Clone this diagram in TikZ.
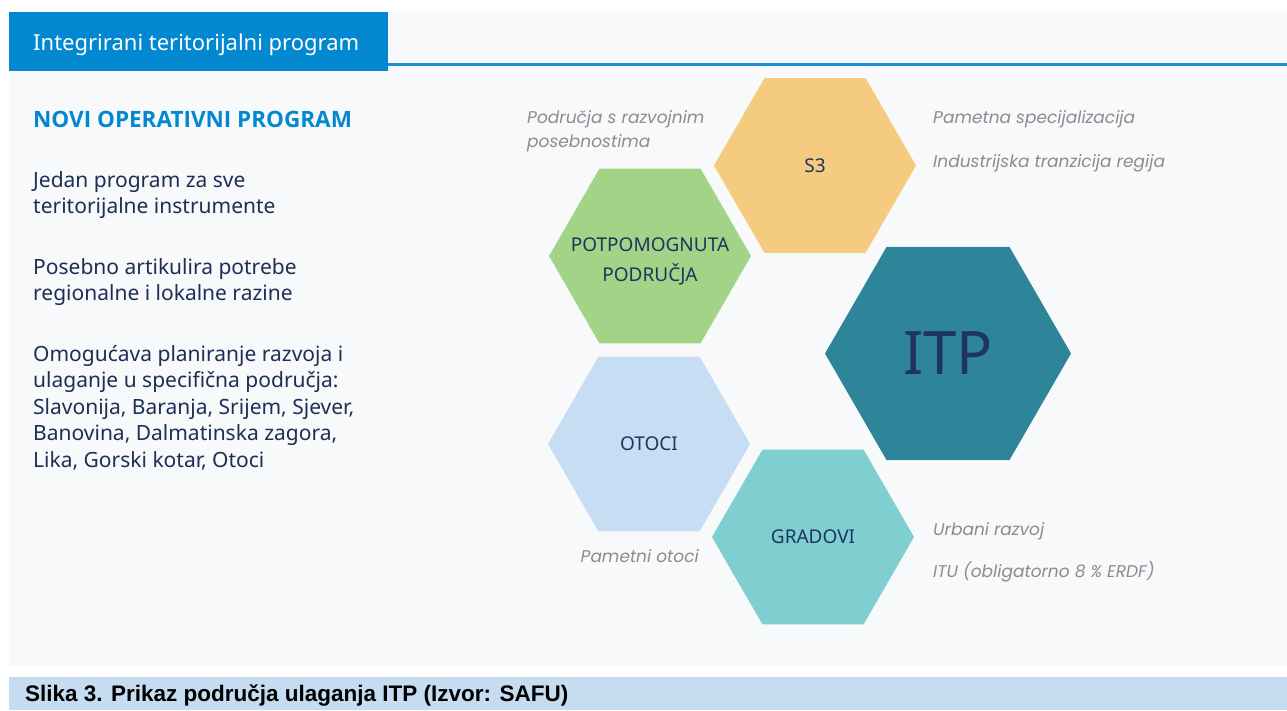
\documentclass[tikz,border=0pt]{standalone}
\usepackage{fontspec}
\setmainfont{Noto Sans}
\newfontfamily\notefont{Poppins}
\newfontfamily\headfont{Open Sans}
\newfontfamily\capfont{Liberation Sans}
\usetikzlibrary{shapes.geometric, positioning}
\definecolor{panelgray}{RGB}{247,249,251}
\definecolor{headblue}{RGB}{2,136,209}
\definecolor{lineblue}{RGB}{26,143,214}
\definecolor{capblue}{RGB}{197,220,241}
\definecolor{bodynavy}{RGB}{30,47,85}
\definecolor{hexnavy}{RGB}{31,52,96}
\definecolor{notegray}{RGB}{140,140,144}
\definecolor{hexyellow}{RGB}{244,203,127}
\definecolor{hexgreen}{RGB}{163,211,134}
\definecolor{hexsky}{RGB}{198,221,243}
\definecolor{hexaqua}{RGB}{127,207,209}
\definecolor{hexteal}{RGB}{46,133,153}
\tikzset{
    hexa/.style={
           regular polygon,
           regular polygon sides=6,
           draw=none,
           inner sep=0pt,
           outer sep=0pt,
           minimum size=202pt,
           },
    hextext/.style={text=hexnavy, font=\fontsize{19}{30}\selectfont, align=center},
    note/.style={text=notegray, font=\notefont\itshape\fontsize{17}{24}\selectfont, align=left, inner sep=0pt},
    body/.style={text=bodynavy, font=\fontsize{21}{26.5}\selectfont, align=left, anchor=base west, inner sep=0pt},
}
\newcommand{\Potpom}{POTPOMOGNUTA\\PODRUČJA}
\newcommand{\OmoguTxt}{Omogućava planiranje razvoja i\\ulaganje u specifična područja:\\Slavonija, Baranja, Srijem, Sjever,\\Banovina, Dalmatinska zagora,\\Lika, Gorski kotar, Otoci}

\begin{document}
\begin{tikzpicture}[x=1pt, y=-1pt]
  \useasboundingbox (0,0) rectangle (1287,710);
  \fill[panelgray] (9,11) rectangle (1287,666);
  \fill[capblue]   (9,677) rectangle (1287,710);
  \node[fill=headblue, minimum width=379pt, minimum height=59pt, anchor=north west, inner sep=0pt] (head) at (9,12) {};
  \node[text=white, font=\fontsize{22}{24}\selectfont, anchor=base west, inner sep=0pt] (headtxt) at (33,50) {Integrirani teritorijalni program};
  \coordinate (lineend) at (1287,64);
  \draw[lineblue, line width=3pt] (head.south east |- lineend) -- (lineend);

  \node[text=headblue, font=\headfont\bfseries\fontsize{22.5}{26}\selectfont, anchor=base west, inner sep=0pt] (novi) at (33,127) {NOVI OPERATIVNI PROGRAM};
  \node[body] (jedan)   at (33,213.5) {Jedan program za sve\\teritorijalne instrumente};
  \node[body] (posebno) at (33,300.5) {Posebno artikulira potrebe\\regionalne i lokalne razine};
  \node[body] (omogu)   at (33,467)   {\OmoguTxt};

  \node[hexa, fill=hexyellow]               (s3)   at (815,165.5) {};
  \node[hexa, fill=hexgreen]                (pot)  at (650,256)   {};
  \node[hexa, fill=hexsky]                  (oto)  at (649,444)   {};
  \node[hexa, fill=hexaqua]                 (gra)  at (813,537)   {};
  \node[hexa, fill=hexteal, minimum size=246pt] (itp) at (948,353.5) {};

  \node[hextext]               (s3txt)  at (s3.center)  {S3};
  \node[hextext, yshift=-5pt]  (pottxt) at (pot.center) {\Potpom};
  \node[hextext]               (ototxt) at (oto.center) {OTOCI};
  \node[hextext]               (gratxt) at (gra.center) {GRADOVI};
  \node[text=hexnavy, font=\fontsize{60}{60}\selectfont] (itptxt) at (itp.center) {ITP};

  \node[note, anchor=base west] (razv)  at (527,147) {Područja s razvojnim\\posebnostima};
  \node[note, anchor=base west] (pamet) at (933,123) {Pametna specijalizacija};
  \node[note, anchor=base west] (indus) at (933,167) {Industrijska tranzicija regija};
  \node[note, anchor=base west] (urban) at (933,535) {Urbani razvoj};
  \node[note, anchor=base west] (itu)   at (933,577) {ITU (obligatorno 8 \% ERDF)};
  \node[note, anchor=base east] (potok) at (699,562) {Pametni otoci};

  \node[font=\capfont\bfseries\fontsize{22.5}{24}\selectfont, anchor=base west, inner sep=0pt] (slika) at (25,701) {Slika 3. Prikaz područja ulaganja ITP (Izvor: SAFU)};
\end{tikzpicture}
\end{document}
